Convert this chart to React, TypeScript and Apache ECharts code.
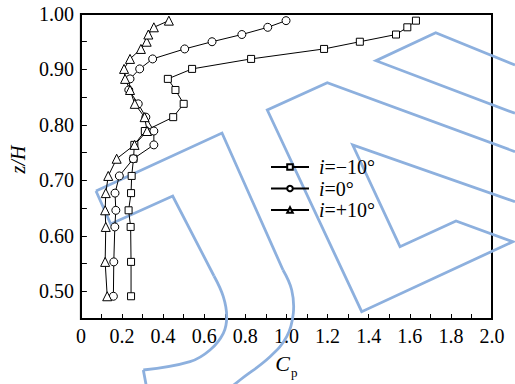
import React, { useEffect, useRef } from "react";
import * as echarts from "echarts";

// Shared measurement heights z/H
const heights = [0.491, 0.553, 0.616, 0.646, 0.677, 0.708, 0.739, 0.764, 0.789, 0.814, 0.838, 0.863, 0.883, 0.901, 0.919, 0.937, 0.950, 0.963, 0.976, 0.988];
// Cp values for each inclination
const cpMinus10 = [0.244, 0.244, 0.242, 0.232, 0.244, 0.247, 0.256, 0.26, 0.311, 0.449, 0.5, 0.46, 0.423, 0.541, 0.828, 1.183, 1.357, 1.533, 1.588, 1.63];
const cpZero = [0.158, 0.16, 0.165, 0.17, 0.166, 0.187, 0.255, 0.355, 0.355, 0.316, 0.279, 0.233, 0.239, 0.286, 0.349, 0.505, 0.638, 0.783, 0.909, 0.998];
const cpPlus10 = [0.128, 0.118, 0.121, 0.118, 0.121, 0.133, 0.174, 0.261, 0.322, 0.31, 0.262, 0.239, 0.215, 0.21, 0.239, 0.292, 0.32, 0.328, 0.355, 0.428];
const seriesNames = ["i=−10°", "i=0°", "i=+10°"];
const seriesSymbols = ["rect", "circle", "triangle"];
const seriesSizes = [7, 8, 9];

const FONT = "Liberation Serif, Times New Roman, serif";
const WM = "#8DB0DE";

export default function App() {
  const ref = useRef<HTMLDivElement>(null);
  useEffect(() => {
    const chart = echarts.init(ref.current!, undefined, { renderer: "svg" });
    const cps = [cpMinus10, cpZero, cpPlus10];
    const series = cps.map((cp, k) => ({
      name: seriesNames[k],
      type: "line",
      data: cp.map((v, i) => [v, heights[i]]),
      symbol: seriesSymbols[k],
      symbolSize: seriesSizes[k],
      showAllSymbol: true,
      lineStyle: { color: "#000", width: 1 },
      itemStyle: { color: "#fff", borderColor: "#000", borderWidth: 1 },
      z: 3,
    }));
    const wmLine = (points: number[][], smooth = 0) => ({
      type: "polyline",
      silent: true,
      z: 1,
      shape: { points, smooth },
      style: { stroke: WM, lineWidth: 2.8, fill: null },
    });
    chart.setOption({
      animation: false,
      backgroundColor: "#fff",
      textStyle: { fontFamily: FONT },
      grid: { left: 79, top: 14, width: 413, height: 308, show: true, borderColor: "#000", borderWidth: 2, backgroundColor: "transparent" },
      legend: {
        orient: "vertical",
        left: 265,
        top: 152,
        itemWidth: 38,
        itemHeight: 7,
        itemGap: 1.5,
        data: seriesNames,
        formatter: (name: string) => `{i|i}{t|${name.slice(1)}}`,
        textStyle: {
          fontFamily: FONT,
          color: "#000",
          rich: {
            i: { fontFamily: FONT, fontStyle: "italic", fontSize: 20, lineHeight: 22, padding: [0, 0, 0, 5] },
            t: { fontFamily: FONT, fontSize: 20, lineHeight: 22 },
          },
        },
      },
      xAxis: {
        type: "value",
        min: 0,
        max: 2.0,
        interval: 0.2,
        name: "{c|C}{p|p}",
        nameLocation: "middle",
        nameGap: 28,
        nameTextStyle: {
          rich: {
            c: { fontFamily: FONT, fontStyle: "italic", fontSize: 22, lineHeight: 32, color: "#000" },
            p: { fontFamily: FONT, fontSize: 13, lineHeight: 32, verticalAlign: "bottom", color: "#000", padding: [0, 0, 0, 1] },
          },
        },
        axisLine: { show: true, lineStyle: { color: "#000", width: 2 } },
        axisTick: { show: true, inside: true, length: 5, lineStyle: { color: "#000", width: 1 } },
        minorTick: { show: true, splitNumber: 2, length: 5, lineStyle: { color: "#000", width: 1 } },
        splitLine: { show: false },
        axisLabel: {
          color: "#000",
          fontSize: 20,
          fontFamily: FONT,
          margin: 7,
          formatter: (v: number) => (v === 0 ? "0" : v.toFixed(1)),
        },
      },
      yAxis: {
        type: "value",
        min: 0.45,
        max: 1.0,
        interval: 0.05,
        name: "z/H",
        nameLocation: "middle",
        nameGap: 48,
        nameTextStyle: { fontFamily: FONT, fontStyle: "italic", fontSize: 20, color: "#000", padding: [0, 0, 0, 14] },
        axisLine: { show: true, lineStyle: { color: "#000", width: 2 } },
        axisTick: { show: true, inside: true, length: 6, lineStyle: { color: "#000", width: 1 } },
        splitLine: { show: false },
        axisLabel: {
          color: "#000",
          fontSize: 20,
          fontFamily: FONT,
          margin: 7,
          showMinLabel: true,
          formatter: (v: number) => {
            const r = Math.round(v * 100);
            return r % 10 === 0 ? (r / 100).toFixed(2) : "";
          },
        },
      },
      graphic: [
        // left hook watermark
        wmLine([[96, 191], [222, 133], [283, 270]]),
        wmLine([[283, 270], [291.7, 290], [293.3, 313.3], [286.7, 336.7], [270, 356.7], [240, 380], [230, 388]], 0.4),
        wmLine([[96, 191], [110.7, 224], [172.7, 196], [214, 276]]),
        wmLine([[214, 276], [223.3, 296.7], [226.7, 316.7], [223.3, 333.3], [210, 350], [190, 361.7], [143.3, 370]], 0.4),
        wmLine([[143.3, 370], [146.7, 388]]),
        // right watermark shapes
        wmLine([[515, 151.7], [327.3, 82.7], [267.3, 110], [361.7, 311.7], [512.7, 241.7], [456, 221], [400, 246.7], [352.7, 145], [515, 201.7]]),
        wmLine([[515, 113.3], [376, 60.7], [435.7, 32.7], [515, 65]]),
      ],
      series,
    });
    return () => chart.dispose();
  }, []);
  return <div ref={ref} style={{ position: "absolute", left: 0, top: 0, width: 515, height: 384 }} />;
}
